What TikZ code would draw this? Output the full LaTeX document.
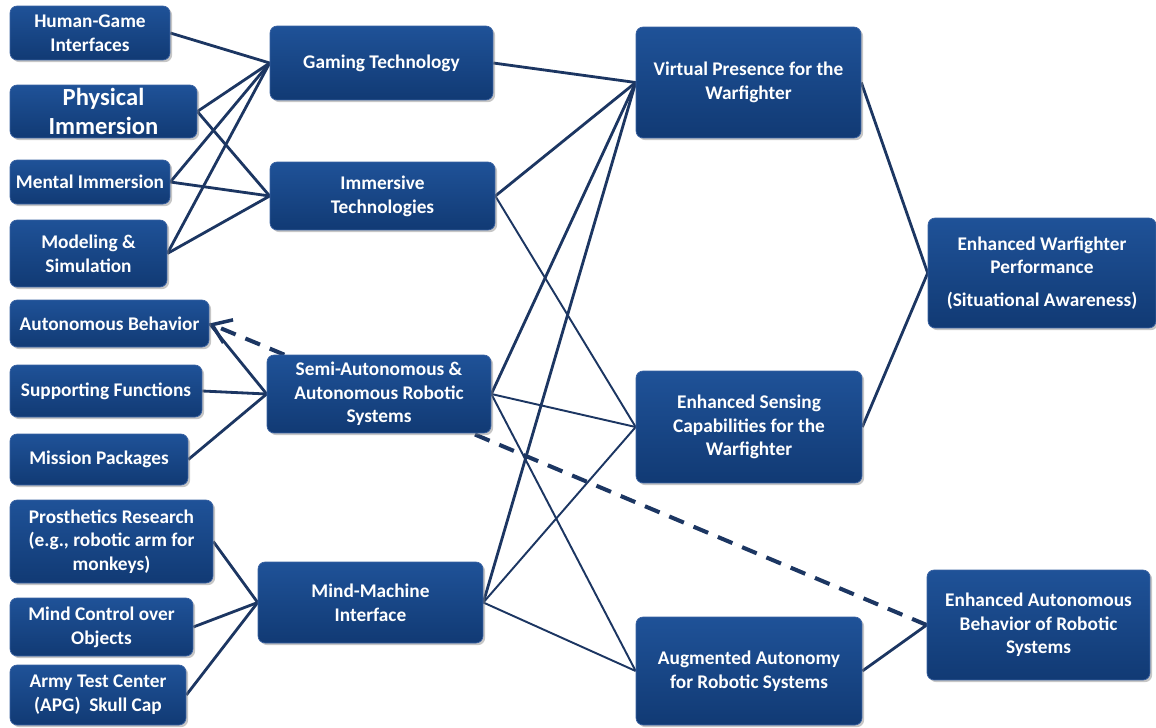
\documentclass[tikz,border=0pt]{standalone}
\usepackage{fontspec}
\setmainfont{Carlito}
\usetikzlibrary{arrows.meta,shadows,backgrounds}
\definecolor{navy}{RGB}{28,54,98}
\definecolor{boxtop}{RGB}{31,82,152}
\definecolor{boxbot}{RGB}{17,58,116}
\definecolor{boxedge}{RGB}{58,98,162}
\tikzstyle{box}=[rectangle, rounded corners=4pt, top color=boxtop, bottom color=boxbot, draw=boxedge, line width=0.4pt, text=white, font=\bfseries\fontsize{11}{13.5}\selectfont, align=center, inner sep=2pt, drop shadow={shadow xshift=1.2pt, shadow yshift=-1.2pt, opacity=0.45}]
\tikzstyle{bigbox}=[box, font=\bfseries\fontsize{14}{16}\selectfont]
\tikzstyle{link}=[draw=navy, line width=1.6pt]
\tikzstyle{thinlink}=[draw=navy, line width=1.1pt]
\tikzstyle{dashlink}=[draw=navy, line width=2.3pt, dash pattern=on 9pt off 6pt]

\begin{document}
\begin{tikzpicture}[x=0.02cm, y=-0.02cm]
	\useasboundingbox (0,0) rectangle (1156,727);
	\begin{scope}
		% left column
		\node (hg) at (90, 33)[box, minimum width=3.2cm, minimum height=1.08cm] {Human-Game\\Interfaces};
		\node (pi) at (103.5, 111.5)[bigbox, minimum width=3.74cm, minimum height=1.06cm] {Physical\\Immersion};
		\node (mi) at (90, 182)[box, minimum width=3.2cm, minimum height=0.88cm] {Mental Immersion};
		\node (ms) at (88.5, 253.5)[box, minimum width=3.14cm, minimum height=1.34cm] {Modeling \&\\Simulation};
		\node (ab) at (109.5, 323.5)[box, minimum width=3.98cm, minimum height=0.94cm] {Autonomous Behavior};
		\node (sf) at (106, 391)[box, minimum width=3.84cm, minimum height=1.04cm] {Supporting Functions};
		\node (mp) at (99, 459.5)[box, minimum width=3.56cm, minimum height=1.02cm] {Mission Packages};
		\node (pr) at (111.5, 541.5)[box, minimum width=4.06cm, minimum height=1.66cm] {Prosthetics Research\\(e.g., robotic arm for\\monkeys)};
		\node (mc) at (101.5, 627)[box, minimum width=3.66cm, minimum height=1.16cm] {Mind Control over\\Objects};
		\node (at) at (98, 695)[box, minimum width=3.52cm, minimum height=1.2cm] {Army Test Center\\(APG)\ \ Skull Cap};

		% second column
		\node (gt) at (381.5, 63)[box, minimum width=4.46cm, minimum height=1.48cm] {Gaming Technology};
		\node (it) at (382.5, 196)[box, minimum width=4.5cm, minimum height=1.36cm] {Immersive\\Technologies};
		\node (sa) at (379, 394)[box, minimum width=4.48cm, minimum height=1.56cm] {Semi-Autonomous \&\\Autonomous Robotic\\Systems};
		\node (mm) at (370.5, 602.5)[box, minimum width=4.5cm, minimum height=1.62cm] {Mind-Machine\\Interface};

		% third column
		\node (vp) at (748.5, 82.5)[box, minimum width=4.5cm, minimum height=2.22cm] {Virtual Presence for the\\Warfighter};
		\node (es) at (749, 427)[box, minimum width=4.52cm, minimum height=2.24cm] {Enhanced Sensing\\Capabilities for the\\Warfighter};
		\node (aa) at (749, 671)[box, minimum width=4.52cm, minimum height=2.16cm] {Augmented Autonomy\\for Robotic Systems};

		% right column
		\node (ew) at (1042, 273)[box, minimum width=4.56cm, minimum height=2.2cm] {Enhanced Warfighter\\Performance\\[5pt](Situational Awareness)};
		\node (eb) at (1038.5, 625)[box, minimum width=4.46cm, minimum height=2.2cm] {Enhanced Autonomous\\Behavior of Robotic\\Systems};
	\end{scope}
	\begin{scope}[on background layer]
		\path [link] (hg.east) edge (gt.west);
		\path [link] (pi.east) edge (gt.west);
		\path [link] (pi.east) edge (it.west);
		\path [link] (mi.east) edge (gt.west);
		\path [link] (mi.east) edge (it.west);
		\path [link] (ms.east) edge (gt.west);
		\path [link] (ms.east) edge (it.west);

		\path [link] (sa.west) edge (ab.east);
		\path [link] (sf.east) edge (sa.west);
		\path [link] (mp.east) edge (sa.west);
		\path [dashlink, -{Straight Barb[length=3.5mm, width=5mm, line width=2pt]}] (sa) edge (ab.east);

		\path [link] (pr.east) edge (mm.west);
		\path [link] (mc.east) edge (mm.west);
		\path [link] (at.east) edge (mm.west);

		\path [link] (gt.east) edge (vp.west);
		\path [link] (it.east) edge (vp.west);
		\path [thinlink] (it.east) edge (es.west);
		\path [link] (sa.east) edge (vp.west);
		\path [thinlink] (sa.east) edge (es.west);
		\path [thinlink] (sa.east) edge (aa.west);
		\path [link] (mm.east) edge (vp.west);
		\path [thinlink] (mm.east) edge (es.west);
		\path [thinlink] (mm.east) edge (aa.west);

		\path [link] (vp.east) edge (ew.west);
		\path [link] (es.east) edge (ew.west);
		\path [link] (aa.east) edge (eb.west);
		\path [dashlink] (eb.west) edge (sa);
	\end{scope}
\end{tikzpicture}
\end{document}
